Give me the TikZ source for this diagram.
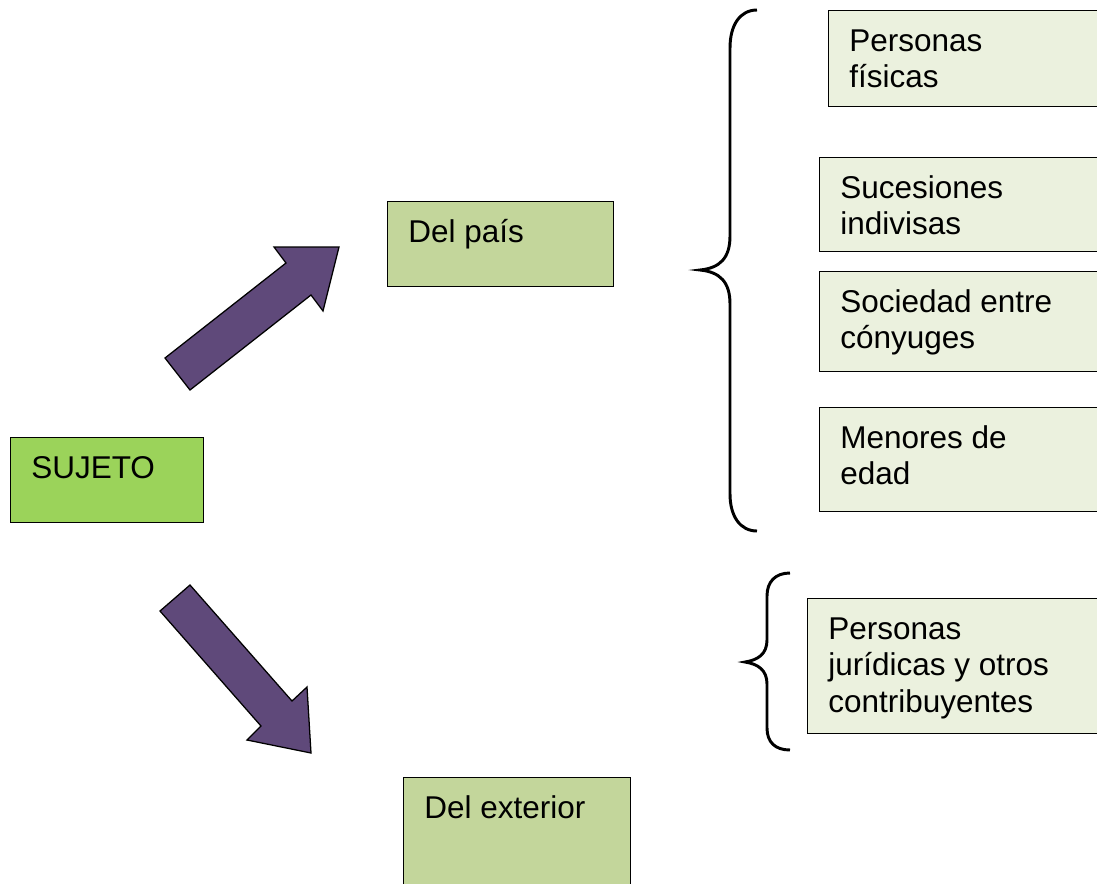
\documentclass[tikz,border=0pt]{standalone}
\usepackage{fontspec}
\setmainfont{Liberation Sans}
\usetikzlibrary{calc}

\definecolor{verde}{HTML}{9BD35A}
\definecolor{oliva}{HTML}{C3D69B}
\definecolor{claro}{HTML}{EBF1DE}
\definecolor{morado}{HTML}{5F497A}

\tikzset{
  caja/.style={draw,line width=1pt,rectangle,anchor=north west,inner sep=0pt},
  texto/.style={anchor=north west,inner sep=0pt,align=left,
    font=\fontsize{22.4pt}{25.9pt}\selectfont},
  flecha/.style={draw=black,line width=0.9pt,fill=morado,line join=miter},
  llave/.style={draw,line width=2.1pt}
}

\begin{document}
\begin{tikzpicture}[x=0.025cm,y=-0.025cm]
  \useasboundingbox (0,0) rectangle (1097,883);

  \begin{scope}[every node/.style={caja}]
    \node[fill=verde,minimum width=4.825cm,minimum height=2.125cm] (sujeto)     at (10,437) {};
    \node[fill=oliva,minimum width=5.65cm,minimum height=2.125cm]  (pais)       at (387,201) {};
    \node[fill=oliva,minimum width=5.675cm,minimum height=3cm]     (exterior)   at (403,777) {};
    \node[fill=claro,minimum width=6.925cm,minimum height=2.4cm]   (fisicas)    at (828,10) {};
    \node[fill=claro,minimum width=7.15cm,minimum height=2.35cm]   (sucesiones) at (819,157) {};
    \node[fill=claro,minimum width=7.15cm,minimum height=2.5cm]    (sociedad)   at (819,271) {};
    \node[fill=claro,minimum width=7.15cm,minimum height=2.6cm]    (menores)    at (819,407) {};
    \node[fill=claro,minimum width=7.45cm,minimum height=3.375cm]  (juridicas)  at (807,598) {};
  \end{scope}

  \begin{scope}[every node/.style={texto}]
    \node (sujeto-t)     at ($(sujeto.north west)+(21,15.4)$)     {\strut SUJETO};
    \node (pais-t)       at ($(pais.north west)+(21,15.4)$)       {\strut Del país};
    \node (exterior-t)   at ($(exterior.north west)+(21,15.4)$)   {\strut Del exterior};
    \node (fisicas-t)    at ($(fisicas.north west)+(21,15.4)$)    {\strut Personas\\físicas};
    \node (sucesiones-t) at ($(sucesiones.north west)+(21,15.4)$) {\strut Sucesiones\\indivisas};
    \node (sociedad-t)   at ($(sociedad.north west)+(21,15.4)$)   {\strut Sociedad entre\\cónyuges};
    \node (menores-t)    at ($(menores.north west)+(21,15.4)$)    {\strut Menores de\\edad};
    \node (juridicas-t)  at ($(juridicas.north west)+(21,15.4)$)  {\strut Personas\\jurídicas y otros\\contribuyentes};
  \end{scope}

  % flechas
  \draw[flecha] (165,358) -- (286,263) -- (274,247) -- (339,247) -- (323,311) -- (311,295) -- (190,390) -- cycle;
  \draw[flecha] (160,611) -- (190,585) -- (292,701) -- (307,687) -- (311,753) -- (247,740) -- (261,726) -- cycle;

  % llaves
  \draw[llave] (757,10) .. controls (740,10) and (730,25) .. (730,48) -- (730,236)
    .. controls (730,258) and (720,268) .. (700,270)
    .. controls (720,272) and (730,282) .. (730,304) -- (730,494)
    .. controls (730,516) and (740,531) .. (757,531);
  \draw[llave] (790,573) .. controls (775,573) and (767,582) .. (767,596) -- (767,640)
    .. controls (767,654) and (758,660) .. (745,662)
    .. controls (758,664) and (767,670) .. (767,684) -- (767,728)
    .. controls (767,742) and (775,750) .. (790,750);

\end{tikzpicture}
\end{document}
